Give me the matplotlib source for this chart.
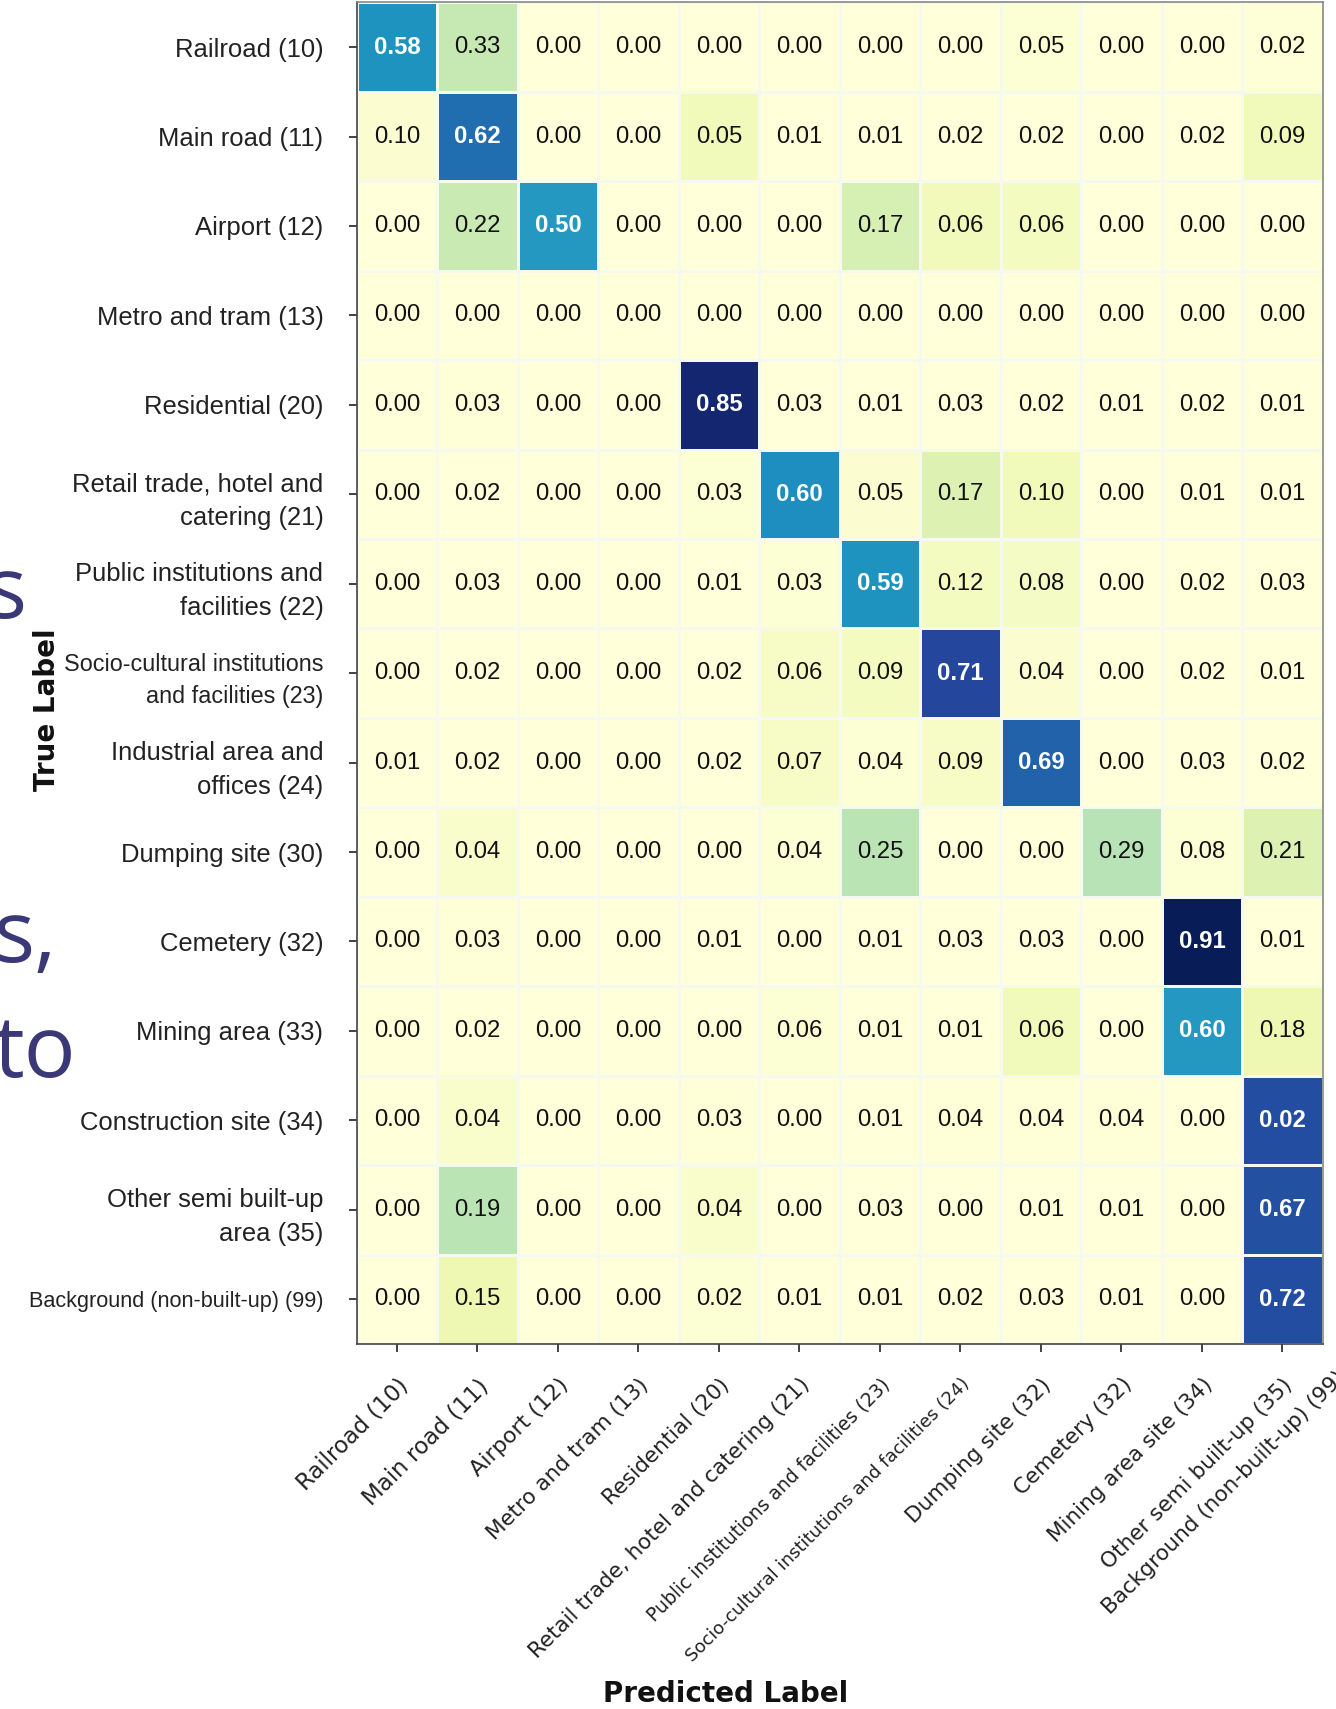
import numpy as np
import matplotlib.pyplot as plt
from matplotlib import font_manager, transforms

# --- データ ---
row_labels = [
    "Railroad (10)", "Main road (11)", "Airport (12)", "Metro and tram (13)",
    "Residential (20)", "Retail trade, hotel and\ncatering (21)",
    "Public institutions and\nfacilities (22)", "Socio-cultural institutions\nand facilities (23)",
    "Industrial area and\noffices (24)", "Dumping site (30)", "Cemetery (32)",
    "Mining area (33)", "Construction site (34)", "Other semi built-up\narea (35)",
    "Background (non-built-up) (99)",
]
col_labels = [
    "Railroad (10)", "Main road (11)", "Airport (12)", "Metro and tram (13)",
    "Residential (20)", "Retail trade, hotel and catering (21)",
    "Public institutions and facilities (23)", "Socio-cultural institutions and facilities (24)",
    "Dumping site (32)", "Cemetery (32)", "Mining area site (34)",
    "Other semi built-up (35)", "Background (non-built-up) (99)",
]

# セルに書かれた数値
values = [
    [0.58, 0.33, 0.00, 0.00, 0.00, 0.00, 0.00, 0.00, 0.05, 0.00, 0.00, 0.02],
    [0.10, 0.62, 0.00, 0.00, 0.05, 0.01, 0.01, 0.02, 0.02, 0.00, 0.02, 0.09],
    [0.00, 0.22, 0.50, 0.00, 0.00, 0.00, 0.17, 0.06, 0.06, 0.00, 0.00, 0.00],
    [0.00, 0.00, 0.00, 0.00, 0.00, 0.00, 0.00, 0.00, 0.00, 0.00, 0.00, 0.00],
    [0.00, 0.03, 0.00, 0.00, 0.85, 0.03, 0.01, 0.03, 0.02, 0.01, 0.02, 0.01],
    [0.00, 0.02, 0.00, 0.00, 0.03, 0.60, 0.05, 0.17, 0.10, 0.00, 0.01, 0.01],
    [0.00, 0.03, 0.00, 0.00, 0.01, 0.03, 0.59, 0.12, 0.08, 0.00, 0.02, 0.03],
    [0.00, 0.02, 0.00, 0.00, 0.02, 0.06, 0.09, 0.71, 0.04, 0.00, 0.02, 0.01],
    [0.01, 0.02, 0.00, 0.00, 0.02, 0.07, 0.04, 0.09, 0.69, 0.00, 0.03, 0.02],
    [0.00, 0.04, 0.00, 0.00, 0.00, 0.04, 0.25, 0.00, 0.00, 0.29, 0.08, 0.21],
    [0.00, 0.03, 0.00, 0.00, 0.01, 0.00, 0.01, 0.03, 0.03, 0.00, 0.91, 0.01],
    [0.00, 0.02, 0.00, 0.00, 0.00, 0.06, 0.01, 0.01, 0.06, 0.00, 0.60, 0.18],
    [0.00, 0.04, 0.00, 0.00, 0.03, 0.00, 0.01, 0.04, 0.04, 0.04, 0.00, 0.02],
    [0.00, 0.19, 0.00, 0.00, 0.04, 0.00, 0.03, 0.00, 0.01, 0.01, 0.00, 0.67],
    [0.00, 0.15, 0.00, 0.00, 0.02, 0.01, 0.01, 0.02, 0.03, 0.01, 0.00, 0.72],
]

# セルの色の濃さ (画像から読み取り, YlGnBu 0-1)
shade = [
    [0.62, 0.25, 0.00, 0.00, 0.00, 0.00, 0.00, 0.00, 0.02, 0.00, 0.00, 0.01],
    [0.03, 0.71, 0.00, 0.00, 0.10, 0.00, 0.00, 0.00, 0.00, 0.00, 0.00, 0.10],
    [0.00, 0.24, 0.60, 0.00, 0.00, 0.00, 0.20, 0.10, 0.08, 0.00, 0.00, 0.00],
    [0.00, 0.00, 0.00, 0.00, 0.00, 0.00, 0.00, 0.00, 0.00, 0.00, 0.00, 0.00],
    [0.00, 0.01, 0.00, 0.00, 0.95, 0.00, 0.00, 0.00, 0.00, 0.00, 0.00, 0.00],
    [0.00, 0.00, 0.00, 0.00, 0.02, 0.63, 0.03, 0.18, 0.10, 0.00, 0.00, 0.00],
    [0.00, 0.00, 0.00, 0.00, 0.00, 0.02, 0.62, 0.08, 0.07, 0.00, 0.00, 0.00],
    [0.00, 0.00, 0.00, 0.00, 0.00, 0.06, 0.08, 0.82, 0.03, 0.00, 0.00, 0.00],
    [0.00, 0.00, 0.00, 0.00, 0.00, 0.06, 0.02, 0.06, 0.74, 0.00, 0.00, 0.00],
    [0.00, 0.04, 0.00, 0.00, 0.00, 0.02, 0.27, 0.00, 0.00, 0.28, 0.02, 0.18],
    [0.00, 0.01, 0.00, 0.00, 0.00, 0.00, 0.00, 0.00, 0.00, 0.00, 1.00, 0.00],
    [0.00, 0.00, 0.00, 0.00, 0.00, 0.02, 0.00, 0.00, 0.10, 0.00, 0.60, 0.12],
    [0.00, 0.04, 0.00, 0.00, 0.01, 0.00, 0.00, 0.01, 0.01, 0.01, 0.00, 0.80],
    [0.00, 0.27, 0.00, 0.00, 0.04, 0.00, 0.00, 0.00, 0.00, 0.00, 0.00, 0.79],
    [0.00, 0.12, 0.00, 0.00, 0.02, 0.00, 0.00, 0.00, 0.00, 0.00, 0.00, 0.80],
]

# 行ラベルの文字サイズ, 列ラベルの文字サイズ
row_sizes = [22] * 7 + [20] + [22] * 6 + [18.5]
col_sizes = [16.5, 16.5, 16, 15.5, 15.5, 15.5, 13.5, 13, 15.5, 15.5, 15.5, 15.5]

# --- フォント (細いフォントが無ければ普通のものを小さく) ---
installed = {f.name for f in font_manager.fontManager.ttflist}
if "Liberation Sans Narrow" in installed:
    narrow, k = "Liberation Sans Narrow", 1.0
else:
    narrow, k = "Liberation Sans", 0.84

fig = plt.figure(figsize=(13.36, 17.09), dpi=100)
ax = fig.add_axes([0.267, 0.2136, 0.723, 0.785])

arr = np.array(shade)
ax.pcolormesh(arr, cmap="YlGnBu", vmin=0, vmax=1, edgecolors="#f6f9ef", linewidth=0.8)
ax.set_xlim(0, arr.shape[1])
ax.set_ylim(arr.shape[0], 0)

# セルの数値
for i, row in enumerate(values):
    for j, v in enumerate(row):
        dark = shade[i][j] > 0.5
        ax.text(j + 0.5, i + 0.5, f"{v:.2f}", ha="center", va="center",
                fontsize=20.5 * k, family=narrow,
                color="white" if dark else "#111111",
                fontweight="bold" if dark else "normal")

# 縦軸
ax.set_yticks(np.arange(len(row_labels)) + 0.5)
ax.set_yticklabels(row_labels, family=narrow, linespacing=1.5)
for lab, s in zip(ax.get_yticklabels(), row_sizes):
    lab.set_fontsize(s * k)
ax.tick_params(axis="y", length=6, width=1.2, pad=18, colors="#222222")

# 横軸 (ラベルは13個, 目盛りは12個)
ncol = arr.shape[1]
ax.set_xticks(np.arange(ncol) + 0.5)
ax.set_xticklabels(col_labels[:ncol], rotation=45, ha="right", rotation_mode="anchor",
                   family="DejaVu Sans")
for lab, s in zip(ax.get_xticklabels(), col_sizes):
    lab.set_fontsize(s)
ax.tick_params(axis="x", length=6, width=1.2, pad=16, colors="#222222")
trans = transforms.offset_copy(ax.get_xaxis_transform(), fig=fig, y=-22, units="points")
ax.text(ncol + 0.25, 0, col_labels[ncol], transform=trans, rotation=45, ha="right",
        va="center", rotation_mode="anchor", fontsize=15.5, family="DejaVu Sans",
        color="#222222", clip_on=False)

for side in ["left", "bottom"]:
    ax.spines[side].set_color("#444444")
    ax.spines[side].set_linewidth(1.2)
for side in ["top", "right"]:
    ax.spines[side].set_color("#888888")
    ax.spines[side].set_linewidth(1.2)

fig.text(0.035, 0.585, "True Label", rotation=90, ha="center", va="center",
         fontsize=20, fontweight="bold", family="DejaVu Sans", color="#111111")
fig.text(0.543, 0.009, "Predicted Label", ha="center", va="center",
         fontsize=20, fontweight="bold", family="DejaVu Sans", color="#111111")

# 左端に見切れている文字
for txt, xpx, ypx in [("s", 27, 618), ("s,", 57, 962), ("to", 76, 1077)]:
    fig.text(xpx / 1336, 1 - ypx / 1709, txt, ha="right", va="baseline",
             fontsize=62, family="Open Sans", color="#3b3878")

plt.savefig("out.png", dpi=100)
plt.close()
